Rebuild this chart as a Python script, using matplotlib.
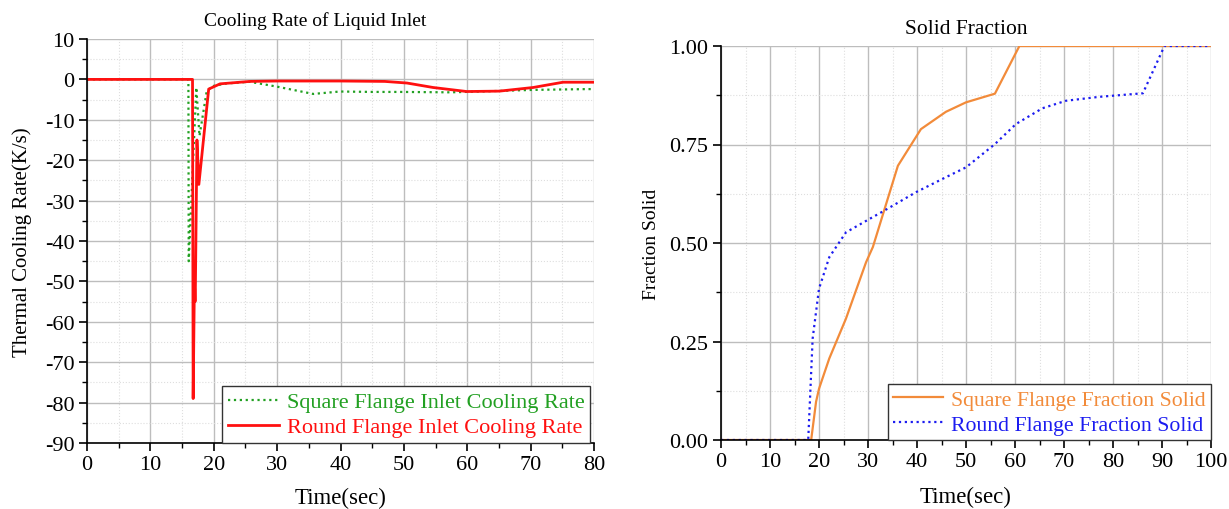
import numpy as np
import matplotlib.pyplot as plt
from matplotlib.ticker import MultipleLocator

plt.rcParams['font.family'] = ['Liberation Serif', 'DejaVu Serif']
plt.rcParams['axes.unicode_minus'] = False

# Cooling rate of liquid inlet (K/s)
t_square = [0, 16.0, 16.05, 17.25, 17.75, 18.9, 20, 22, 25.7, 30, 35.7, 39.9, 45, 49.4, 57.3, 62, 66, 70.4, 78.8, 80]
rate_square = [0, 0, -45, -2, -14, -2.8, -1.6, -1.0, -0.6, -1.8, -3.6, -3.0, -3.1, -3.1, -3.2, -3.0, -2.8, -2.6, -2.4, -2.4]

t_round = [0, 16.65, 16.75, 16.95, 17.05, 17.1, 17.35, 17.65, 19.2, 21, 25.7, 30, 40, 47, 50.5, 54.6, 59.9, 65.1, 70.4, 75.1, 80]
rate_round = [0, 0, -79, -50, -55, -52, -15, -26, -2.4, -1.1, -0.5, -0.4, -0.4, -0.5, -0.9, -2.0, -3.0, -2.9, -2.0, -0.7, -0.7]

# Solid fraction
t_sq_fs = [0, 18.4, 19.4, 20.0, 22.1, 25.5, 29.6, 31.0, 36.1, 40.8, 45.9, 50.0, 55.9, 60.9, 100]
fs_square = [0, 0, 0.097, 0.13, 0.207, 0.308, 0.451, 0.49, 0.696, 0.789, 0.833, 0.857, 0.879, 1.0, 1.0]

t_rd_fs = [0, 17.8, 18.7, 20.0, 22.1, 25.5, 30.3, 33.3, 39.8, 45.9, 50.0, 55.9, 60.2, 65.6, 70.4, 77.2, 86.1, 90.5, 100]
fs_round = [0, 0, 0.257, 0.384, 0.464, 0.527, 0.561, 0.582, 0.629, 0.667, 0.692, 0.751, 0.802, 0.842, 0.861, 0.871, 0.880, 1.0, 1.0]

green = '#22a022'
red = '#ff1010'
orange = '#f28b3a'
blue = '#1c1cf0'
tick_fs = 16

fig = plt.figure(figsize=(12.29, 5.10), dpi=100)
ax1 = fig.add_axes([87/1229, 66/510, 507/1229, 404/510])
ax2 = fig.add_axes([721/1229, 69/510, 490/1229, 394/510])


def style(ax):
    for s in ['top', 'right']:
        ax.spines[s].set_visible(False)
    for s in ['left', 'bottom']:
        ax.spines[s].set_linewidth(1.2)
    ax.grid(which='major', color='#bdbdbd', lw=1.0)
    ax.grid(which='minor', color='#dedede', lw=0.8, ls=':')
    ax.set_axisbelow(True)
    ax.tick_params(which='major', direction='out', length=6, width=1.2, labelsize=tick_fs, pad=3)
    ax.tick_params(which='minor', direction='out', length=3.5, width=1.0)


# left chart
ax1.plot(t_square, rate_square, color=green, ls=':', lw=1.6, label='Square Flange Inlet Cooling Rate')
ax1.plot(t_round, rate_round, color=red, lw=2.0, label='Round Flange Inlet Cooling Rate')
ax1.set_xlim(0, 80)
ax1.set_ylim(-90, 10)
ax1.xaxis.set_major_locator(MultipleLocator(10))
ax1.xaxis.set_minor_locator(MultipleLocator(5))
ax1.yaxis.set_major_locator(MultipleLocator(10))
ax1.yaxis.set_minor_locator(MultipleLocator(5))
style(ax1)
ax1.set_xlabel('Time(sec)', fontsize=16.5, labelpad=9)
ax1.set_ylabel('Thermal Cooling Rate(K/s)', fontsize=15, labelpad=9)
ax1.set_title('Cooling Rate of Liquid Inlet', fontsize=14, x=0.45, pad=10)
leg1 = ax1.legend(loc='lower right', bbox_to_anchor=(0.992, 0.0), borderaxespad=0, fontsize=16,
                  fancybox=False, edgecolor='#333333', framealpha=1, handlelength=2.3,
                  borderpad=0.25, labelspacing=0.2, handletextpad=0.35)
leg1.get_frame().set_linewidth(1.0)
for txt, c in zip(leg1.get_texts(), [green, red]):
    txt.set_color(c)

# right chart
ax2.plot(t_sq_fs, fs_square, color=orange, lw=1.6, label='Square Flange Fraction Solid')
ax2.plot(t_rd_fs, fs_round, color=blue, ls=':', lw=1.6, label='Round Flange Fraction Solid')
ax2.set_xlim(0, 100)
ax2.set_ylim(0, 1)
ax2.xaxis.set_major_locator(MultipleLocator(10))
ax2.xaxis.set_minor_locator(MultipleLocator(5))
ax2.yaxis.set_major_locator(MultipleLocator(0.25))
ax2.yaxis.set_minor_locator(MultipleLocator(0.125))
ax2.yaxis.set_major_formatter(plt.FormatStrFormatter('%.2f'))
style(ax2)
ax2.set_xlabel('Time(sec)', fontsize=16.5, labelpad=10)
ax2.set_ylabel('Fraction Solid', fontsize=14, labelpad=7)
ax2.set_title('Solid Fraction', fontsize=15.5, pad=9)
leg2 = ax2.legend(loc='lower right', bbox_to_anchor=(1.0, 0.0), borderaxespad=0, fontsize=15.7,
                  fancybox=False, edgecolor='#333333', framealpha=1, handlelength=2.3,
                  borderpad=0.25, labelspacing=0.2, handletextpad=0.35)
leg2.get_frame().set_linewidth(1.0)
for txt, c in zip(leg2.get_texts(), [orange, blue]):
    txt.set_color(c)

fig.savefig('out.png', dpi=100)
